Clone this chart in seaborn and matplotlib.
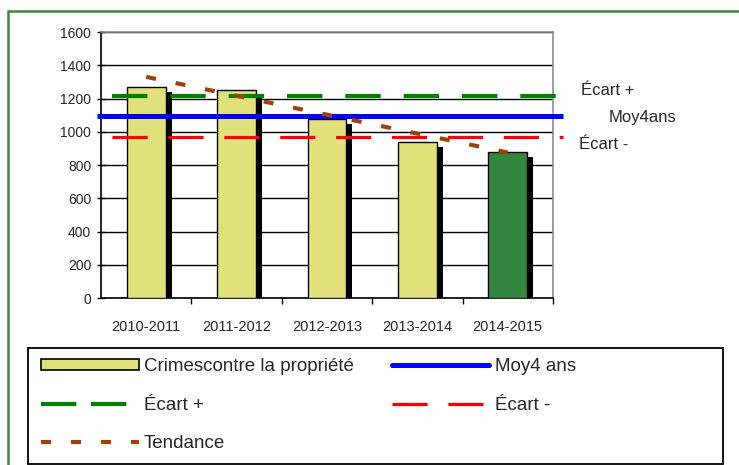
import matplotlib
matplotlib.use("Agg")
import matplotlib.pyplot as plt
import matplotlib.patheffects as pe
from matplotlib.lines import Line2D
from matplotlib.patches import Patch, Rectangle
import matplotlib.transforms as mtransforms
import seaborn as sns
import pandas as pd

# ---- data ----
categories = ["2010-2011", "2011-2012", "2012-2013", "2013-2014", "2014-2015"]
crimes = [1271, 1249, 1075, 936, 876]
moy_4ans = 1095
ecart_plus = 1215
ecart_moins = 970
tendance = [1330, 875]  # linear trend at first and last category
yticks = [0, 200, 400, 600, 800, 1000, 1200, 1400, 1600]

sns.set_theme(style="white")
plt.rcParams["font.family"] = ["Liberation Sans", "DejaVu Sans"]

W, H = 739, 465
fig = plt.figure(figsize=(W / 100, H / 100), dpi=100)
ax = fig.add_axes([101 / W, 1 - 298 / H, 452 / W, 266 / H])

df = pd.DataFrame({"cat": categories, "val": crimes})
bar_colors = ["#E1E17B"] * 4 + ["#35873D"]
sns.barplot(data=df, x="cat", y="val", hue="cat", palette=bar_colors,
            legend=False, width=0.43, edgecolor="black", linewidth=1.0,
            saturation=1, ax=ax, zorder=3)
for p in ax.patches:
    p.set_path_effects([pe.SimplePatchShadow(offset=(4.3, -3.6),
                                             shadow_rgbFace="black", alpha=1.0),
                        pe.Normal()])

ax.set_xlim(-0.5, 4.5)
ax.set_ylim(0, 1600)
ax.set_yticks(yticks)
ax.set_yticklabels([str(v) for v in yticks], fontsize=10)
ax.grid(axis="y", color="black", linewidth=1.0, zorder=0)
ax.set_axisbelow(True)

# x ticks at category boundaries, labels at centres
ax.set_xticks([0.5, 1.5, 2.5, 3.5, 4.5])
ax.set_xticklabels([])
ax.set_xticks(range(len(categories)), minor=True)
ax.set_xticklabels(categories, minor=True, fontsize=10.5)
ax.tick_params(axis="x", which="major", direction="out", length=4,
               width=1, color="black", bottom=True)
ax.tick_params(axis="x", which="minor", length=0, pad=16, bottom=True)
ax.tick_params(axis="y", direction="inout", length=6, width=1,
               color="black", left=True, pad=4)
ax.set_xlabel("")
ax.set_ylabel("")

for s in ["left", "bottom"]:
    ax.spines[s].set_color("black")
    ax.spines[s].set_linewidth(1.2)
for s in ["top", "right"]:
    ax.spines[s].set_visible(True)
    ax.spines[s].set_color("#8C8C8C")
    ax.spines[s].set_linewidth(1.2)

n = len(categories)
# reference lines (extend slightly beyond the plot area, as in the original)
ax.hlines(moy_4ans, -0.545, n - 0.39, color="#0000FF", linewidth=3.6,
          zorder=5, clip_on=False)
ax.hlines(ecart_plus, -0.38, n - 0.39, color="#008000", linewidth=3.0,
          linestyles=(0, (8.5, 5.5)), zorder=5, clip_on=False)
ax.hlines(ecart_moins, -0.38, n - 0.39, color="#FF0000", linewidth=2.3,
          linestyles=(0, (11, 6.5)), zorder=5, clip_on=False)
ax.plot([0, n - 1], tendance, color="#A0400A", linewidth=3.0,
        linestyle=(0, (2.4, 4.8)), zorder=6)

# right-side labels
trans = mtransforms.blended_transform_factory(ax.transAxes, ax.transData)
ax.text(1.062, 1251, "Écart +", transform=trans, fontsize=12, va="center",
        ha="left")
ax.text(1.124, 1083, "Moy4ans", transform=trans, fontsize=12, va="center",
        ha="left")
ax.text(1.058, 921, "Écart -", transform=trans, fontsize=12, va="center",
        ha="left")

# legend
handles = [
    Patch(facecolor="#E1E17B", edgecolor="black", linewidth=1.2),
    Line2D([], [], color="#008000", linewidth=3.0, linestyle=(0, (8.5, 3.5))),
    Line2D([], [], color="#A0400A", linewidth=3.0, linestyle=(0, (2.4, 4.8))),
    Line2D([], [], color="#0000FF", linewidth=3.6),
    Line2D([], [], color="#FF0000", linewidth=2.3, linestyle=(0, (11, 6.5))),
]
labels = ["Crimescontre la propriété", "Écart +", "Tendance", "Moy4 ans",
          "Écart -"]
fig.legend(handles, labels, loc="upper left",
           bbox_to_anchor=(41 / W, 1 - 358 / H), ncol=2, frameon=False,
           fontsize=13.5, handlelength=5.2, handleheight=0.5,
           handletextpad=0.3, columnspacing=2.0, labelspacing=1.15,
           borderpad=0, borderaxespad=0)
fig.add_artist(Rectangle((28 / W, 1 - 464 / H), 695 / W, 116 / H,
                         transform=fig.transFigure, fill=False,
                         edgecolor="black", linewidth=1.3))
# outer green frame
fig.add_artist(Rectangle((8 / W, -0.05), 1.1, 1 - 11 / H + 0.05,
                         transform=fig.transFigure, fill=False,
                         edgecolor="#3A8A3A", linewidth=1.8, clip_on=False))

fig.savefig("out.png", dpi=100)
